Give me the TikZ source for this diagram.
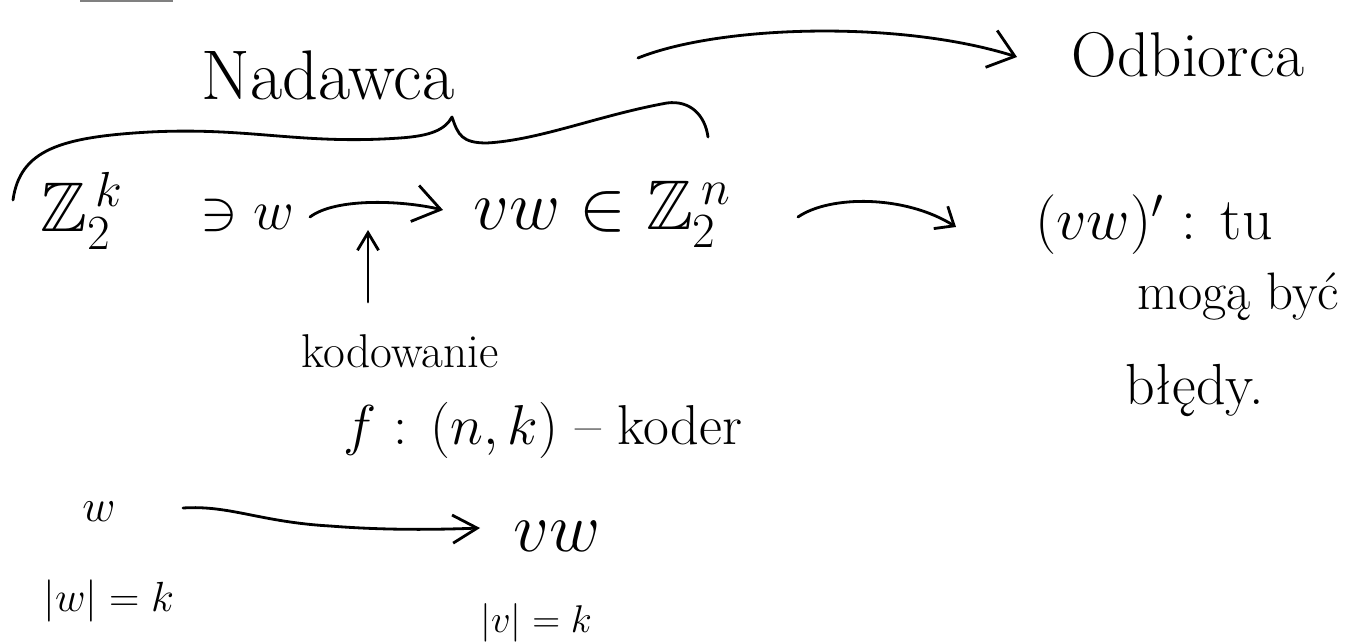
\RequirePackage{fix-cm}
\documentclass[tikz,border=0pt]{standalone}
\usepackage{amssymb}
\usetikzlibrary{arrows.meta}
\tikzset{
  hand/.style={line width=1.6pt, line cap=round, line join=round},
  harrow/.style={hand, -{Straight Barb[length=14pt,width=22pt]}},
  lbl/.style={inner sep=0pt, font=\fontsize{#1}{#1}\selectfont},
}
\begin{document}
\begin{tikzpicture}[x=0.02cm,y=-0.02cm]
\useasboundingbox (0,0) rectangle (1362,644);
% top-left fragment of a line
\draw[line width=1.2pt, gray] (80,0.5) -- (173,0.5);
% labels
\node[lbl=40, anchor=base] (nad) at (328,100) {Nadawca};
\node[lbl=36, anchor=base] (odb) at (1188,77) {Odbiorca};
\node[lbl=40, anchor=base west] (zk) at (40,232) {$\mathbb{Z}_{2\,}^{\,k}$};
\node[lbl=32, anchor=base west] (ew) at (200,230) {$\ni w$};
\node[lbl=40, anchor=base west] (vz) at (473,230) {$vw \in \mathbb{Z}_{2\,}^{\,n}$};
\node[lbl=27, anchor=base] (kod) at (400,368) {kodowanie};
\node[lbl=32, anchor=base] (fk) at (543,445) {$f$ : $(n,k)$ -- koder};
\node[lbl=34, anchor=base west] (rec) at (1035,240) {$(vw)'$ : tu};
\node[lbl=30, anchor=base west] (mog) at (1137,310) {mogą być};
\node[lbl=33, anchor=base west] (bl) at (1125,405) {błędy.};
\node[lbl=26, anchor=base] (w2) at (99,522) {$w$};
\node[lbl=24, anchor=base west] (lw) at (43,612) {$|w|=k$};
\node[lbl=40, anchor=base west] (vw2) at (513,552) {$vw$};
\node[lbl=22, anchor=base west] (lv) at (480,632) {$|v|=k$};
% brace over the sender part
\draw[hand] (13,200) .. controls (20,150) and (60,137) .. (150,132)
  .. controls (250,127) and (300,145) .. (400,138)
  .. controls (430,136) and (445,130) .. (452,117)
  .. controls (458,135) and (462,143) .. (487,143)
  .. controls (540,140) and (600,115) .. (667,103)
  .. controls (690,100) and (705,115) .. (708,137);
% connector end points
\coordinate (t1s) at (638,58);
\coordinate (t1e) at (1017,57);
\coordinate (m1s) at (310,217);
\coordinate (m1e) at (443,210);
\coordinate (ups) at (368,302);
\coordinate (upe) at (368,230);
\coordinate (m2s) at (798,217);
\coordinate (m2e) at (956,227);
\coordinate (b1s) at (183,508);
\coordinate (b1e) at (480,528);
% connectors
\draw[harrow] (t1s) .. controls (720,25) and (900,20) .. (t1e);
\draw[harrow, -{Straight Barb[length=15pt,width=21pt]}] (m1s) .. controls (335,198) and (400,200) .. (m1e);
\draw[hand, -{Straight Barb[length=10pt,width=12pt]}] (ups) -- (upe);
\draw[hand, -{Straight Barb[length=9pt,width=15pt]}] (m2s) .. controls (830,195) and (905,195) .. (m2e);
\draw[hand, -{Straight Barb[length=14pt,width=16pt]}] (b1s) .. controls (230,505) and (260,522) .. (330,526)
  .. controls (380,530) and (430,530) .. (b1e);
\end{tikzpicture}
\end{document}
